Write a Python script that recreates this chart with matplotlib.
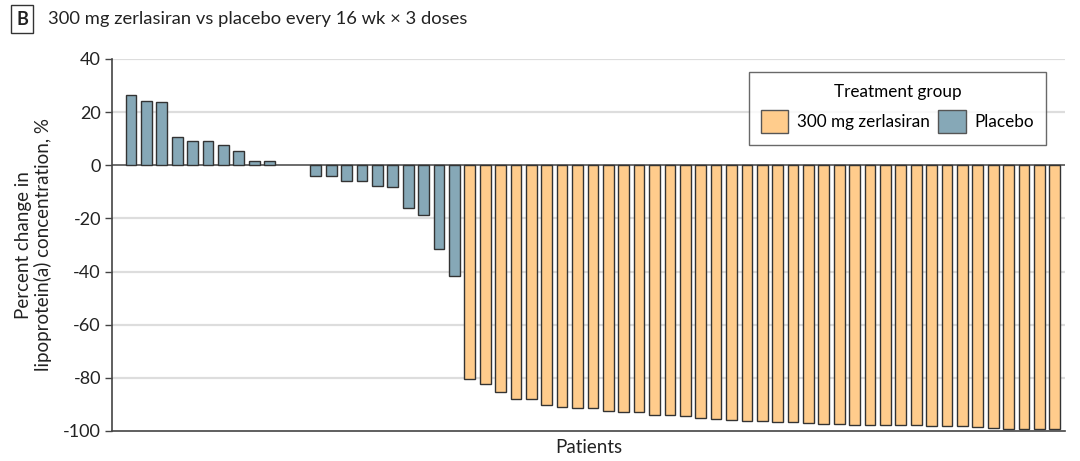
import numpy as np
import matplotlib
matplotlib.use("Agg")
import matplotlib.pyplot as plt
from matplotlib.patches import Patch

plt.rcParams['font.family'] = ['Lato', 'DejaVu Sans']

# percent change per patient, sorted as in the waterfall (None = no bar shown)
placebo = [26.5, 24.1, 23.7, 10.6, 9.3, 9.1, 7.7, 5.4, 1.5, 1.5, None, None,
           -4.1, -4.0, -5.8, -5.8, -7.7, -8.3, -16.0, -18.7, -31.4, -41.5]
zerlasiran = [-80.5, -82.4, -85.4, -87.8, -88.1, -90.3, -91.1, -91.5, -91.5, -92.5,
              -92.8, -92.8, -94.1, -94.1, -94.2, -95.2, -95.6, -96.0, -96.2, -96.4,
              -96.6, -96.7, -97.1, -97.4, -97.4, -97.7, -97.7, -97.7, -97.7, -97.7,
              -98.0, -98.0, -98.0, -98.6, -99.0, -99.4, -99.4, -99.4, -99.4]
yticks = [40, 20, 0, -20, -40, -60, -80, -100]

ORANGE = "#FFCC8C"
BLUE = "#86A8B7"
EDGE = "#333333"

fig = plt.figure(figsize=(10.8, 4.61), dpi=100)
ax = fig.add_axes([0.1037, 0.0651, 0.8823, 0.807])

x_pl = np.arange(len(placebo))
x_ze = len(placebo) + np.arange(len(zerlasiran))
shown = [i for i, v in enumerate(placebo) if v is not None]

for y in yticks:
    if y not in (0, -100):
        ax.axhline(y, color="#dddddd", lw=1.6, zorder=0)
ax.axhline(0, color="#444444", lw=1.1, zorder=1)

ax.bar(x_pl[shown], [placebo[i] for i in shown], width=0.7, color=BLUE,
       edgecolor=EDGE, linewidth=1.0, zorder=2)
ax.bar(x_ze, zerlasiran, width=0.7, color=ORANGE, edgecolor=EDGE, linewidth=1.0, zorder=2)

ax.set_xlim(-1.23, len(placebo) + len(zerlasiran) - 1 + 0.65)
ax.set_ylim(-100, 40)
ax.set_yticks(yticks)
ax.set_yticklabels([str(v) for v in yticks], fontsize=13, color="#222222")
ax.set_xticks([])
ax.tick_params(axis="y", length=5, width=1, color="#444444", pad=3)
for s in ("top", "right"):
    ax.spines[s].set_visible(False)
for s in ("left", "bottom"):
    ax.spines[s].set_color("#444444")
    ax.spines[s].set_linewidth(1.2)

ax.set_xlabel("Patients", fontsize=13.5, color="#222222", labelpad=6)
ax.set_ylabel("Percent change in\nlipoprotein(a) concentration, %", fontsize=13.5,
              color="#222222", labelpad=8, linespacing=1.15)

handles = [Patch(facecolor=ORANGE, edgecolor="#555555", label="300 mg zerlasiran"),
           Patch(facecolor=BLUE, edgecolor="#555555", label="Placebo")]
leg = ax.legend(handles=handles, title="Treatment group", ncol=2, loc="upper right",
                bbox_to_anchor=(0.98, 0.965), fontsize=12.3, title_fontsize=12.3,
                frameon=True, fancybox=False, edgecolor="#444444",
                handlelength=1.6, handleheight=1.7, handletextpad=0.5,
                columnspacing=0.5, borderpad=0.7, borderaxespad=0, labelspacing=0.5)
leg.get_frame().set_linewidth(1.0)
leg._legend_box.sep = 7

fig.text(0.0205, 0.958, "B", fontsize=13, fontweight="bold", color="#222222",
         va="center", ha="center",
         bbox=dict(boxstyle="square,pad=0.3", facecolor="white", edgecolor="#333333", lw=1.0))
fig.text(0.044, 0.958, "300 mg zerlasiran vs placebo every 16 wk \u00d7 3 doses",
         fontsize=13.2, color="#222222", va="center", ha="left")

fig.savefig("out.png", dpi=100)
